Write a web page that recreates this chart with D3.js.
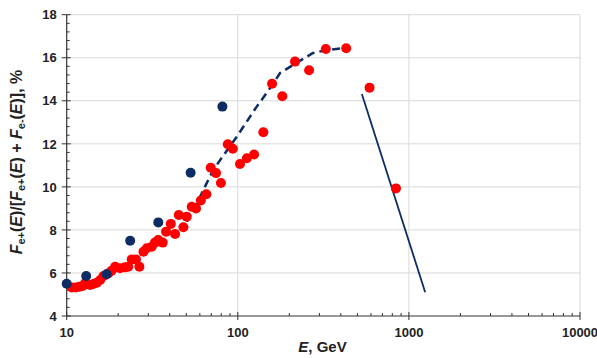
<!DOCTYPE html>
<html>
<head>
<meta charset="utf-8">
<script src="https://cdn.jsdelivr.net/npm/d3@7"></script>
<style>
  body { margin: 0; background: #fff; }
  svg text { font-family: "Liberation Sans", Arial, sans-serif; font-weight: bold; fill: #222; }
</style>
</head>
<body>
<div id="chart"></div>
<script>
// red points: energy (GeV) and positron fraction (%)
const redE = [10.7, 11.3, 11.85, 12.4, 12.8, 13.7, 14.3, 15.0, 15.7, 16.4, 17.5, 18.3, 19.2, 20.5, 21.9, 22.9,
  24.0, 25.4, 26.6, 28.1, 29.4, 31.4, 32.8, 34.3, 36.4, 38.1, 40.6, 43.0, 45.2, 48.1, 50.3, 53.8, 57.0, 60.8,
  65.5, 69.5, 74.6, 79.7, 87.4, 93.5, 103, 113, 124.5, 141, 158.6, 182, 216, 261, 327, 430, 589, 840];
const redF = [5.33, 5.33, 5.36, 5.39, 5.52, 5.44, 5.49, 5.55, 5.67, 5.86, 5.98, 6.10, 6.29, 6.22, 6.26, 6.29,
  6.63, 6.63, 6.29, 6.99, 7.15, 7.22, 7.41, 7.53, 7.41, 7.92, 8.28, 7.81, 8.69, 8.12, 8.61, 9.08, 9.0, 9.37,
  9.66, 10.89, 10.64, 10.18, 11.98, 11.77, 11.06, 11.33, 11.50, 12.54, 14.79, 14.21, 15.82, 15.42, 16.41, 16.44, 14.61, 9.93];

// dark blue points
const blueE = [10.0, 13.0, 17.1, 23.5, 34.3, 53.0, 81.3];
const blueF = [5.5, 5.86, 5.94, 7.5, 8.35, 10.66, 13.73];

// dashed curve
const dashE = [50.3, 60.2, 71.7, 98.6, 129, 154.5, 176.6, 210, 275, 331, 413];
const dashF = [8.38, 9.54, 10.78, 12.33, 13.73, 14.59, 15.29, 15.66, 16.22, 16.36, 16.44];

// solid line
const lineE = [531, 1245];
const lineF = [14.32, 5.10];

const xTicks = [10, 100, 1000, 10000];
const yTicks = [4, 6, 8, 10, 12, 14, 16, 18];

const width = 597, height = 358;
const margin = {top: 14.7, right: 17, bottom: 42, left: 66.7};
const navy = '#0c2c63';

const svg = d3.select('#chart').append('svg')
  .attr('width', width)
  .attr('height', height);

const x = d3.scaleLog().domain([10, 10000]).range([margin.left, width - margin.right]);
const y = d3.scaleLinear().domain([4, 18]).range([height - margin.bottom, margin.top]);

// grid
svg.append('g').selectAll('line.h')
  .data(yTicks.filter(d => d > 4))
  .enter().append('line')
  .attr('x1', x(10)).attr('x2', x(10000))
  .attr('y1', d => y(d)).attr('y2', d => y(d))
  .attr('stroke', '#d9d9d9').attr('stroke-width', 1);

svg.append('g').selectAll('line.v')
  .data(xTicks.filter(d => d > 10))
  .enter().append('line')
  .attr('x1', d => x(d)).attr('x2', d => x(d))
  .attr('y1', y(4)).attr('y2', y(18))
  .attr('stroke', '#d9d9d9').attr('stroke-width', 1);

// x axis
const xMinor = [];
[10, 100, 1000].forEach(dec => { for (let k = 2; k <= 9; k++) xMinor.push(dec * k); });

const xAxis = svg.append('g').attr('transform', `translate(0,${y(4)})`);
xAxis.append('line').attr('x1', x(10)).attr('x2', x(10000)).attr('stroke', '#333').attr('stroke-width', 1.2);
xAxis.selectAll('.minor').data(xMinor).enter().append('line')
  .attr('x1', d => x(d)).attr('x2', d => x(d)).attr('y1', 0).attr('y2', -3)
  .attr('stroke', '#333');
xAxis.selectAll('.major').data(xTicks).enter().append('line')
  .attr('x1', d => x(d)).attr('x2', d => x(d)).attr('y1', -4).attr('y2', 4)
  .attr('stroke', '#333');
xAxis.selectAll('text').data(xTicks).enter().append('text')
  .attr('x', d => x(d)).attr('y', 21)
  .attr('text-anchor', 'middle')
  .attr('font-size', 13)
  .text(d => d);

// y axis
const yMinor = d3.range(4, 18.001, 0.4).filter(d => Math.abs(d - Math.round(d)) > 0.01 || Math.round(d) % 2 === 1);
const yAxis = svg.append('g').attr('transform', `translate(${x(10)},0)`);
yAxis.append('line').attr('y1', y(4)).attr('y2', y(18)).attr('stroke', '#333').attr('stroke-width', 1.2);
yAxis.selectAll('.minor').data(yMinor).enter().append('line')
  .attr('y1', d => y(d)).attr('y2', d => y(d)).attr('x1', 0).attr('x2', 3)
  .attr('stroke', '#333');
yAxis.selectAll('.major').data(yTicks).enter().append('line')
  .attr('y1', d => y(d)).attr('y2', d => y(d)).attr('x1', -5).attr('x2', 4)
  .attr('stroke', '#333');
yAxis.selectAll('text').data(yTicks).enter().append('text')
  .attr('x', -10).attr('y', d => y(d)).attr('dy', '0.36em')
  .attr('text-anchor', 'end')
  .attr('font-size', 13)
  .text(d => d);

// dashed curve
const line = d3.line().x(d => x(d[0])).y(d => y(d[1]));
svg.append('path')
  .datum(d3.zip(dashE, dashF))
  .attr('d', line)
  .attr('fill', 'none')
  .attr('stroke', navy)
  .attr('stroke-width', 2.5)
  .attr('stroke-dasharray', '8,5');

svg.append('path')
  .datum(d3.zip(lineE, lineF))
  .attr('d', line)
  .attr('fill', 'none')
  .attr('stroke', navy)
  .attr('stroke-width', 1.8);

// points
svg.append('g').selectAll('circle')
  .data(d3.zip(redE, redF))
  .enter().append('circle')
  .attr('cx', d => x(d[0])).attr('cy', d => y(d[1]))
  .attr('r', 5)
  .attr('fill', '#ff0000');

svg.append('g').selectAll('circle')
  .data(d3.zip(blueE, blueF))
  .enter().append('circle')
  .attr('cx', d => x(d[0])).attr('cy', d => y(d[1]))
  .attr('r', 5)
  .attr('fill', navy);

// x label
const xl = svg.append('text')
  .attr('x', 322.5).attr('y', 352)
  .attr('text-anchor', 'middle')
  .attr('font-size', 15);
xl.append('tspan').attr('font-style', 'italic').text('E');
xl.append('tspan').text(', GeV');

// y label
const yl = svg.append('text')
  .attr('transform', 'translate(22,162) rotate(-90)')
  .attr('text-anchor', 'middle')
  .attr('font-size', 16);
const parts = [
  ['F', 'i'], ['e+', 's'], ['(', 'n'], ['E', 'i'], [')/[', 'n'],
  ['F', 'i'], ['e+', 's'], ['(', 'n'], ['E', 'i'], [') + ', 'n'],
  ['F', 'i'], ['e-', 's'], ['(', 'n'], ['E', 'i'], [')], %', 'n']
];
let sub = false;
parts.forEach(([t, k]) => {
  const ts = yl.append('tspan').text(t);
  if (k === 'i') ts.attr('font-style', 'italic');
  if (k === 's') { ts.attr('font-size', 11).attr('dy', 3); sub = true; }
  else if (sub) { ts.attr('dy', -3); sub = false; }
});
</script>
</body>
</html>
